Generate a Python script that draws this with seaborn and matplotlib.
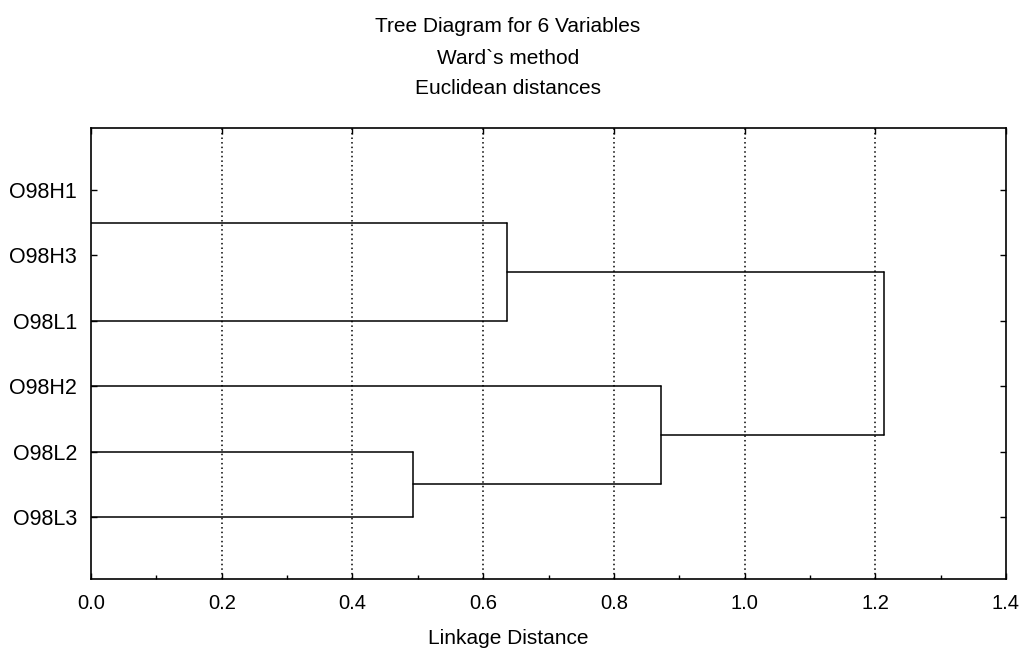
import numpy as np
import pandas as pd
import matplotlib
matplotlib.use("Agg")
import matplotlib.pyplot as plt
import seaborn as sns
from matplotlib.ticker import MultipleLocator

# ---- data ----
leaves = ["O98H1", "O98H3", "O98L1", "O98H2", "O98L2", "O98L3"]
# merges: (left child, right child, linkage distance); ids >= 6 are earlier merges
merge_left = [0, 4, 6, 3, 8]
merge_right = [1, 5, 2, 7, 9]
merge_dist = [0.0, 0.493, 0.636, 0.872, 1.213]
x_ticks = [0.0, 0.2, 0.4, 0.6, 0.8, 1.0, 1.2, 1.4]
title_lines = ["Tree Diagram for 6 Variables", "Ward`s method", "Euclidean distances"]
x_label = "Linkage Distance"

sns.set_theme(style="white")
plt.rcParams["font.family"] = ["Liberation Sans", "DejaVu Sans"]
plt.rcParams["text.color"] = "black"
plt.rcParams["xtick.color"] = "black"
plt.rcParams["ytick.color"] = "black"

fig = plt.figure(figsize=(10.25, 6.5), dpi=100)
ax = fig.add_axes([91 / 1025, 1 - 579 / 650, (1006 - 91) / 1025, (579 - 128) / 650])

# node positions: leaves at 1..n
pos = {i: float(i + 1) for i in range(len(leaves))}
height = {i: 0.0 for i in range(len(leaves))}
rows = []
seg = 0
for k, (a, b, d) in enumerate(zip(merge_left, merge_right, merge_dist)):
    nid = len(leaves) + k
    ya, yb = pos[a], pos[b]
    if d > 0:
        for (xx, yy) in [([height[a], d], [ya, ya]), ([d, d], [ya, yb]), ([height[b], d], [yb, yb])]:
            for xv, yv in zip(xx, yy):
                rows.append({"x": xv, "y": yv, "seg": seg})
            seg += 1
    pos[nid] = (ya + yb) / 2
    height[nid] = d

df = pd.DataFrame(rows)
sns.lineplot(data=df, x="x", y="y", units="seg", estimator=None, sort=False,
             color="black", linewidth=1.1, ax=ax, legend=False)

ax.set_xlim(x_ticks[0], x_ticks[-1])
ax.set_ylim(6.95, 0.05)
ax.set_xticks(x_ticks)
ax.set_xticklabels([f"{t:.1f}" for t in x_ticks], fontsize=14.5, color="black")
ax.xaxis.set_minor_locator(MultipleLocator(0.1))
ax.set_yticks(range(1, len(leaves) + 1))
ax.set_yticklabels(leaves, fontsize=15.5, color="black")
ax.set_xlabel("")
ax.set_ylabel("")

for t in x_ticks[1:-1]:
    ax.axvline(t, color="black", linestyle=(0, (1, 2)), linewidth=1.1, zorder=0)

ax.tick_params(axis="both", which="major", direction="in", length=4, width=1,
               top=True, right=True, left=True, bottom=True, colors="black")
ax.tick_params(axis="y", which="major", pad=10)
ax.tick_params(axis="x", which="major", pad=11)
ax.tick_params(axis="x", which="minor", direction="in", length=3, width=1,
               bottom=True, top=False, colors="black")
for s in ax.spines.values():
    s.set_visible(True)
    s.set_color("black")
    s.set_linewidth(1.2)

for i, line in enumerate(title_lines):
    fig.text(508 / 1025, 1 - (27 + 31 * i) / 650, line, ha="center", va="center",
             fontsize=15, color="black")
fig.text(508 / 1025, 1 - 638 / 650, x_label, ha="center", va="center",
         fontsize=15, color="black")

fig.savefig("out.png", dpi=100, facecolor="white")
